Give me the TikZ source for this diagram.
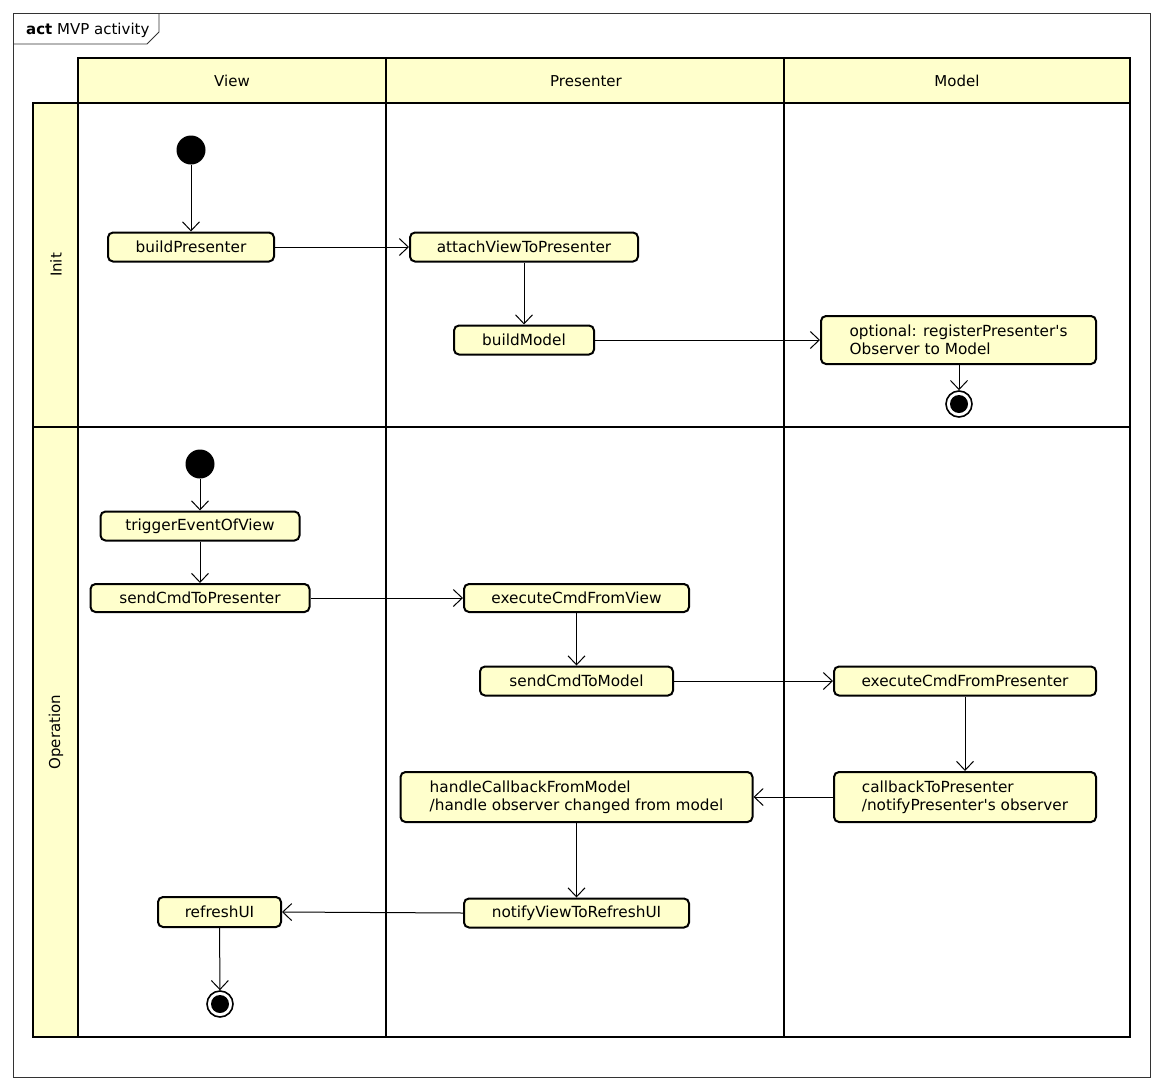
\documentclass[tikz,border=0pt]{standalone}
\usepackage{fontspec}
\setmainfont{DejaVu Sans}
\newfontfamily\dvs{DejaVu Sans}
\usetikzlibrary{arrows.meta}
\definecolor{lane}{HTML}{FFFFCC}
\tikzset{
  act/.style={draw, line width=2pt, rounded corners=5pt, fill=lane, inner sep=0pt,
    font=\dvs\fontsize{15.3}{18}\selectfont, align=left},
  initnode/.style={circle, fill=black, minimum size=29pt, inner sep=0pt},
  finalnode/.style={circle, draw, line width=1.6pt, fill=white, minimum size=26pt, inner sep=0pt,
    path picture={\fill[black] (path picture bounding box.center) circle (9pt);}},
  flow/.style={-{Straight Barb[length=9pt,width=17pt,line width=1pt]}, line width=1pt},
  lanebox/.style={draw, line width=2.4pt},
  lanelabel/.style={font=\dvs\fontsize{15}{18}\selectfont}
}
\begin{document}
\begin{tikzpicture}[x=1pt,y=-1pt]
\useasboundingbox (0,0) rectangle (1162,1090);
\fill[white] (0,0) rectangle (1162,1090);
% frame
\draw[line width=0.9pt, black!80] (13,13) rectangle (1150,1077);
\draw[line width=0.9pt, black!80] (13,44) -- (147,44) -- (159,32) -- (159,13);
\node[anchor=west, font=\dvs\fontsize{15}{18}\selectfont, inner sep=0pt] (title) at (26,30) {\textbf{act} MVP activity};
% swimlanes
\fill[lane] (78,58) rectangle (1130,103);
\fill[lane] (33,103) rectangle (78,1037);
\draw[lanebox] (78,58) rectangle (1130,1037);
\draw[lanebox] (33,103) rectangle (1130,1037);
\draw[lanebox] (33,427) -- (1130,427);
\draw[lanebox] (386,58) -- (386,1037);
\draw[lanebox] (784,58) -- (784,1037);
\node[lanelabel] (hView) at (232,81) {View};
\node[lanelabel] (hPres) at (586,81) {Presenter};
\node[lanelabel] (hModel) at (957,81) {Model};
\node[lanelabel, rotate=90] (hInit) at (56,265) {Init};
\node[lanelabel, rotate=90] (hOp) at (56,732) {Operation};
% Init
\node[initnode] (i1) at (191,150) {};
\node[act, minimum width=166pt, minimum height=29pt] (bp) at (191,247) {buildPresenter};
\node[act, minimum width=228pt, minimum height=29pt] (av) at (524,247) {attachViewToPresenter};
\node[act, minimum width=140pt, minimum height=29pt] (bm) at (524,340) {buildModel};
\node[act, minimum width=275pt, minimum height=48pt] (opt) at (958.5,340) {optional: registerPresenter's\\Observer to Model};
\node[finalnode] (f1) at (959,404) {};
% Operation
\node[initnode] (i2) at (200,464) {};
\node[act, minimum width=199pt, minimum height=29pt] (te) at (200,526) {triggerEventOfView};
\node[act, minimum width=219pt, minimum height=28pt] (sc) at (200,598) {sendCmdToPresenter};
\node[act, minimum width=225pt, minimum height=28pt] (ev) at (576.5,598) {executeCmdFromView};
\node[act, minimum width=193pt, minimum height=29pt] (sm) at (576.5,681) {sendCmdToModel};
\node[act, minimum width=262pt, minimum height=29pt] (ep) at (965,681) {executeCmdFromPresenter};
\node[act, minimum width=262pt, minimum height=50pt] (cb) at (965,797) {callbackToPresenter\\/notifyPresenter's observer};
\node[act, minimum width=352pt, minimum height=50pt] (hc) at (576.5,797) {handleCallbackFromModel\\/handle observer changed from model};
\node[act, minimum width=225pt, minimum height=29pt] (nv) at (576.5,913) {notifyViewToRefreshUI};
\node[act, minimum width=123pt, minimum height=30pt] (ru) at (219.5,912) {refreshUI};
\node[finalnode] (f2) at (220,1004) {};
% flows
\draw[flow] (i1) -- (bp);
\draw[flow] (bp) -- (av);
\draw[flow] (av) -- (bm);
\draw[flow] (bm) -- (opt);
\draw[flow] (opt.south -| f1) -- (f1);
\draw[flow] (i2) -- (te);
\draw[flow] (te) -- (sc);
\draw[flow] (sc) -- (ev);
\draw[flow] (ev) -- (sm);
\draw[flow] (sm) -- (ep);
\draw[flow] (ep) -- (cb);
\draw[flow] (cb) -- (hc);
\draw[flow] (hc) -- (nv);
\draw[flow] (nv.west) -- (ru.east);
\draw[flow] (ru) -- (f2);
\end{tikzpicture}
\end{document}
